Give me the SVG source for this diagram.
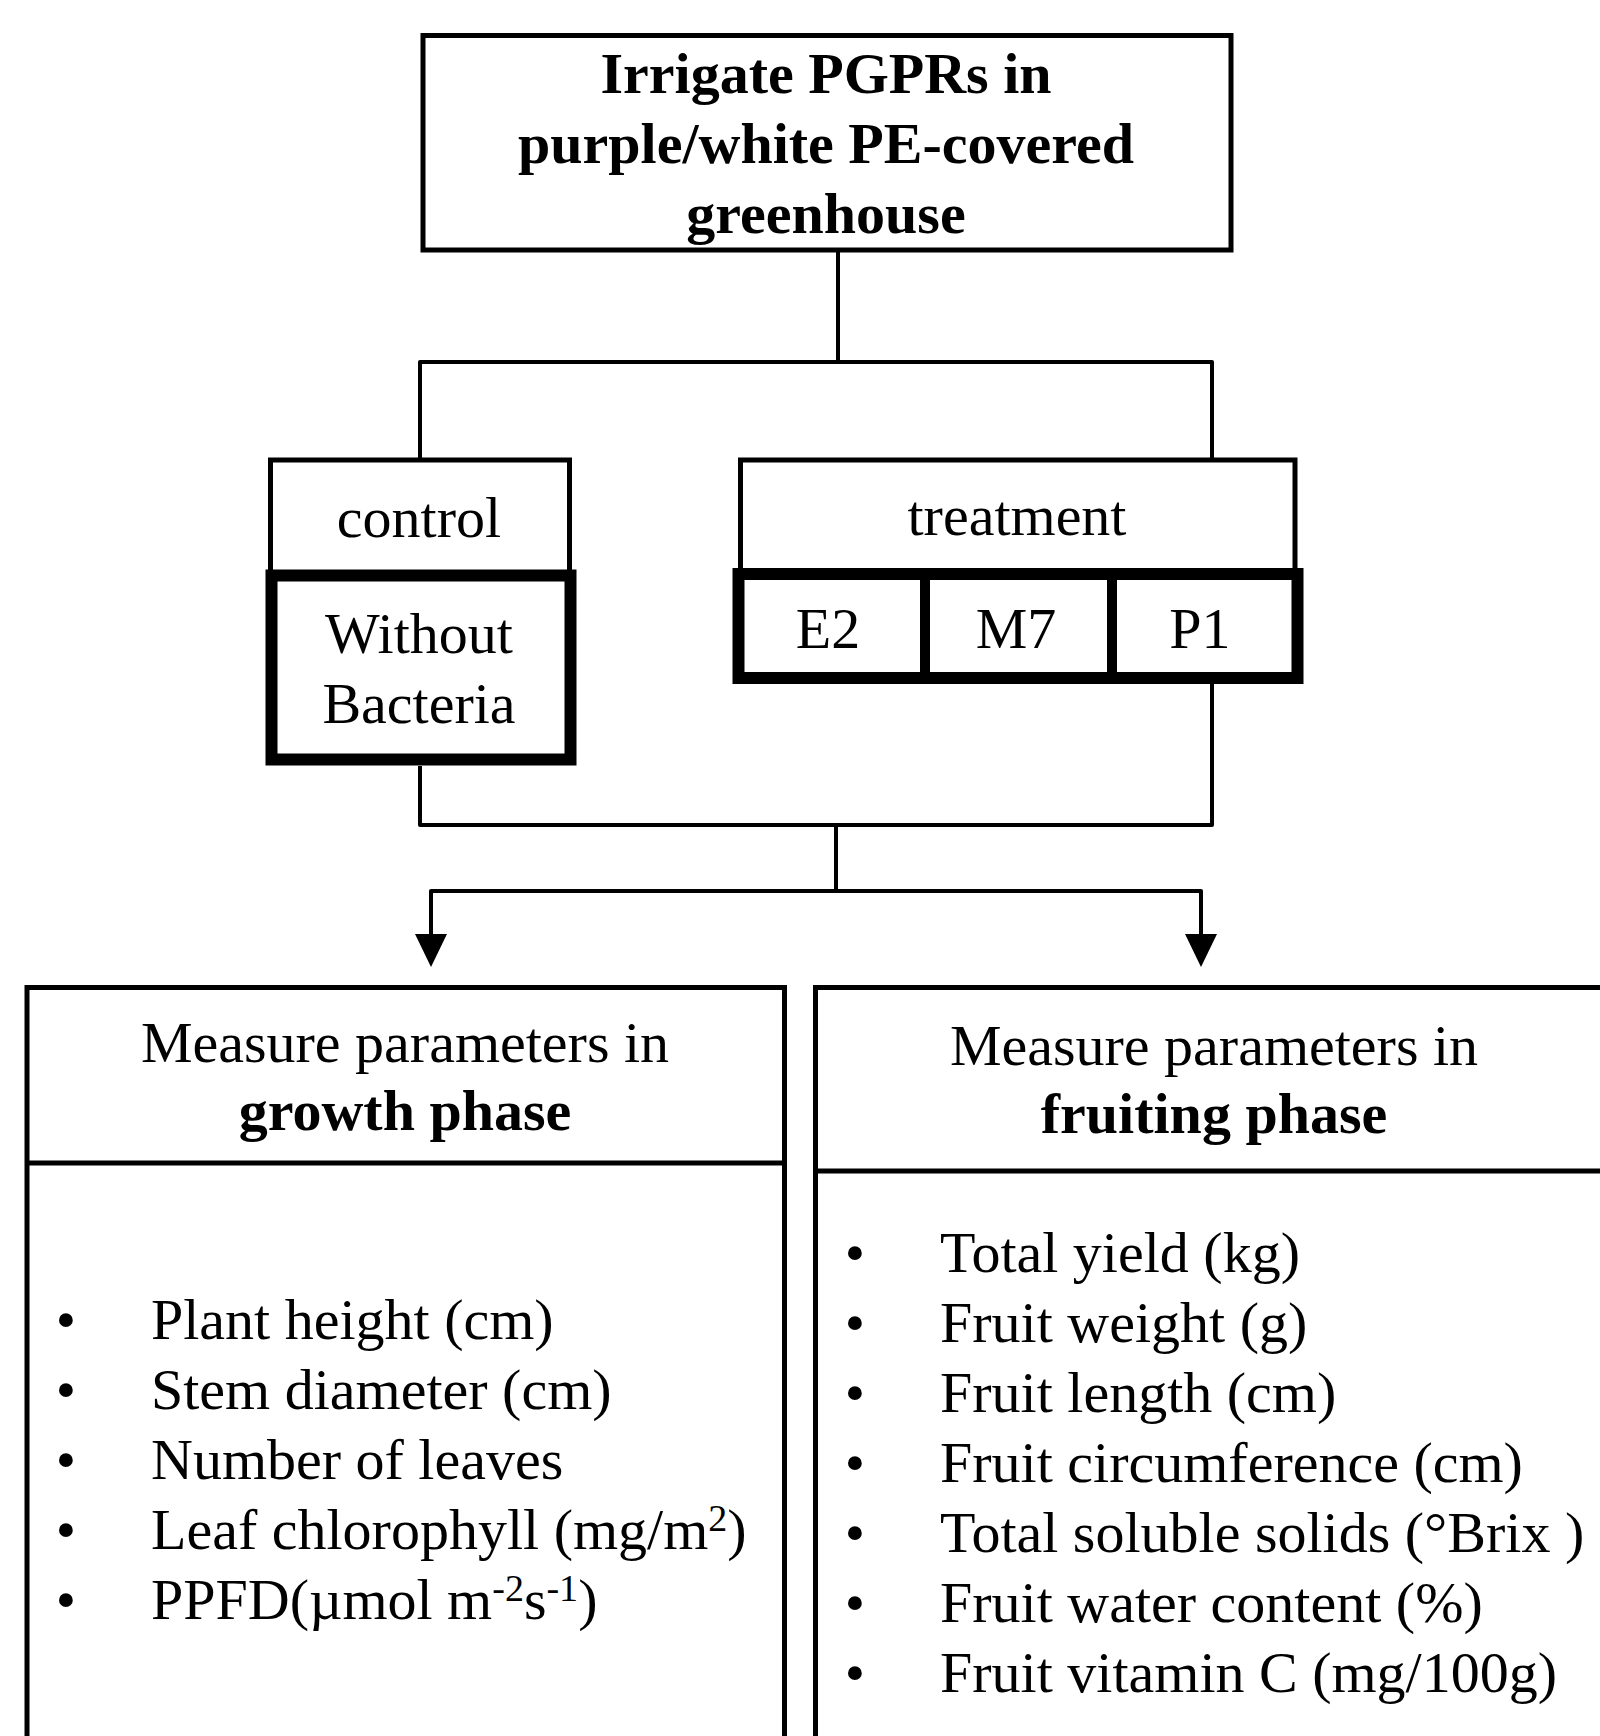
<svg xmlns="http://www.w3.org/2000/svg" width="1600" height="1736" viewBox="0 0 1600 1736">
<style>
.bg{fill:#fff}
.box{fill:#fff;stroke:#000;stroke-width:5}
.thick{fill:none;stroke:#000;stroke-width:12}
.div{stroke:#000;stroke-width:10}
.ln{fill:none;stroke:#000;stroke-width:4;stroke-linejoin:round}
text{font-family:"Liberation Serif","Times New Roman",serif;font-size:58px;fill:#000}
.c{text-anchor:middle}
.b{font-weight:bold}
.bul{text-anchor:middle}
.sup{font-size:38px}
</style>
<defs>
<marker id="arr" viewBox="0 -16 33 32" markerWidth="33" markerHeight="32" refX="0" refY="0" orient="auto" markerUnits="userSpaceOnUse">
<path d="M0,-16 L33,0 L0,16 Z" fill="#000"/>
</marker>
</defs>
<rect class="bg" x="0" y="0" width="1600" height="1736"/>

<g id="connectors">
<path class="ln" d="M838 250 V362"/>
<path class="ln" d="M420 459 V362 H1212 V459"/>
<path class="ln" d="M420 766 V825 H1212 V683"/>
<path class="ln" d="M836 825 V891"/>
<path class="ln" d="M836 891 H431 V934" marker-end="url(#arr)"/>
<path class="ln" d="M836 891 H1201 V934" marker-end="url(#arr)"/>
</g>

<g id="node-top">
<rect class="box" x="423" y="35.5" width="808" height="214.5"/>
<text class="c b" x="826" y="93">Irrigate PGPRs in</text>
<text class="c b" x="826" y="163">purple/white PE-covered</text>
<text class="c b" x="826" y="233">greenhouse</text>
</g>

<g id="node-control">
<rect class="box" x="270.5" y="460" width="299" height="115"/>
<text class="c" x="419" y="537">control</text>
</g>

<g id="node-without-bacteria">
<rect class="thick" x="271.5" y="575.5" width="299" height="184"/>
<text class="c" x="419" y="653">Without</text>
<text class="c" x="419" y="723">Bacteria</text>
</g>

<g id="node-treatment">
<rect class="box" x="740.5" y="460" width="554.5" height="114"/>
<text class="c" x="1017" y="535">treatment</text>
</g>

<g id="node-strains">
<rect class="thick" x="738.5" y="574" width="559" height="104"/>
<line class="div" x1="925" y1="574" x2="925" y2="678"/>
<line class="div" x1="1112" y1="574" x2="1112" y2="678"/>
<text class="c" x="828" y="648">E2</text>
<text class="c" x="1016" y="648">M7</text>
<text class="c" x="1200" y="648">P1</text>
</g>

<g id="node-growth">
<rect class="box" x="27" y="987.5" width="757.5" height="800"/>
<line class="box" x1="27" y1="1163" x2="784.5" y2="1163"/>
<text class="c" x="405" y="1062">Measure parameters in</text>
<text class="c b" x="405" y="1130">growth phase</text>
<text class="bul" x="66" y="1339">•</text><text x="151" y="1339">Plant height (cm)</text>
<text class="bul" x="66" y="1409">•</text><text x="151" y="1409">Stem diameter (cm)</text>
<text class="bul" x="66" y="1479">•</text><text x="151" y="1479">Number of leaves</text>
<text class="bul" x="66" y="1549">•</text><text x="151" y="1549">Leaf chlorophyll (mg/m<tspan class="sup" dy="-18">2</tspan><tspan dy="18">)</tspan></text>
<text class="bul" x="66" y="1619">•</text><text x="151" y="1619">PPFD(µmol m<tspan class="sup" dy="-18">-2</tspan><tspan dy="18">s</tspan><tspan class="sup" dy="-18">-1</tspan><tspan dy="18">)</tspan></text>
</g>

<g id="node-fruiting">
<rect class="box" x="815.5" y="987.5" width="900" height="800"/>
<line class="box" x1="815.5" y1="1171" x2="1600" y2="1171"/>
<text class="c" x="1214" y="1065">Measure parameters in</text>
<text class="c b" x="1214" y="1133">fruiting phase</text>
<text class="bul" x="855" y="1272">•</text><text x="940" y="1272">Total yield (kg)</text>
<text class="bul" x="855" y="1342">•</text><text x="940" y="1342">Fruit weight (g)</text>
<text class="bul" x="855" y="1412">•</text><text x="940" y="1412">Fruit length (cm)</text>
<text class="bul" x="855" y="1482">•</text><text x="940" y="1482">Fruit circumference (cm)</text>
<text class="bul" x="855" y="1552">•</text><text x="940" y="1552">Total soluble solids (°Brix )</text>
<text class="bul" x="855" y="1622">•</text><text x="940" y="1622">Fruit water content (%)</text>
<text class="bul" x="855" y="1692">•</text><text x="940" y="1692">Fruit vitamin C (mg/100g)</text>
</g>
</svg>
